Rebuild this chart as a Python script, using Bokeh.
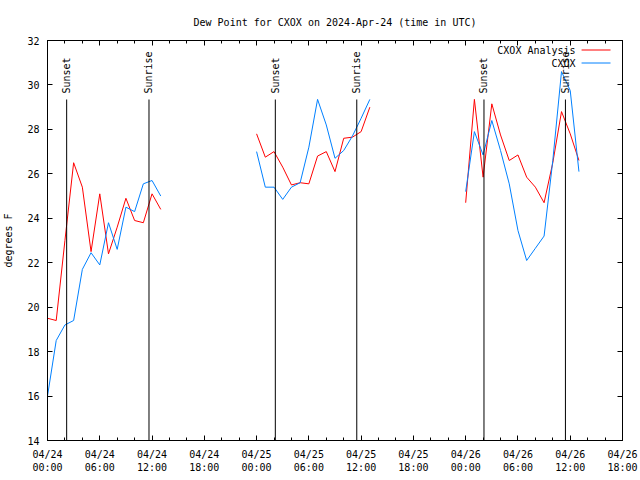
import math
from bokeh.plotting import figure
from bokeh.models import Range1d, FixedTicker, LinearAxis, Title
from bokeh.embed import file_html
from bokeh.resources import INLINE
from bokeh.core.properties import value

# ---------------- data (hours since 2024-04-24 00:00 UTC) ----------------
hours_day1 = [0, 1, 2, 3, 4, 5, 6, 7, 8, 9, 10, 11, 12, 13]
analysis_day1 = [19.5, 19.4, 23.0, 26.5, 25.4, 22.5, 25.1, 22.4, 23.6, 24.9, 23.9, 23.8, 25.1, 24.4]
obs_day1 = [16.0, 18.5, 19.2, 19.4, 21.7, 22.45, 21.9, 23.8, 22.6, 24.5, 24.3, 25.55, 25.7, 25.0]

hours_day2 = [24, 25, 26, 27, 28, 29, 30, 31, 32, 33, 34, 35, 36, 37]
analysis_day2 = [27.8, 26.75, 27.0, 26.3, 25.5, 25.6, 25.55, 26.8, 27.0, 26.1, 27.6, 27.65, 27.9, 29.0]
obs_day2 = [27.0, 25.4, 25.4, 24.85, 25.4, 25.6, 27.2, 29.35, 28.2, 26.7, 27.05, 27.7, 28.5, 29.35]

hours_day3 = [48, 49, 50, 51, 52, 53, 54, 55, 56, 57, 58, 59, 60, 61]
analysis_day3 = [24.7, 29.35, 25.85, 29.15, 27.75, 26.6, 26.85, 25.85, 25.4, 24.7, 26.5, 28.8, 27.8, 26.6]
obs_day3 = [25.2, 27.9, 26.85, 28.4, 27.05, 25.55, 23.45, 22.1, 22.65, 23.2, 26.6, 30.6, 29.75, 26.1]

sun_event_hours = [2.2, 11.65, 26.15, 35.5, 50.1, 59.45]
sun_event_labels = ["Sunset", "Sunrise", "Sunset", "Sunrise", "Sunset", "Sunrise"]

x_tick_hours = [0, 6, 12, 18, 24, 30, 36, 42, 48, 54, 60, 66]
x_tick_labels = ["04/24\n00:00", "04/24\n06:00", "04/24\n12:00", "04/24\n18:00",
                 "04/25\n00:00", "04/25\n06:00", "04/25\n12:00", "04/25\n18:00",
                 "04/26\n00:00", "04/26\n06:00", "04/26\n12:00", "04/26\n18:00"]
x_minor_hours = list(range(0, 67, 2))
y_ticks = [14, 16, 18, 20, 22, 24, 26, 28, 30, 32]

series_names = ["CXOX Analysis", "CXOX"]
series_colors = ["#ff0000", "#0080ff"]
title_text = "Dew Point for CXOX on 2024-Apr-24 (time in UTC)"

# ---------------- layout ----------------
FONT = "DejaVu Sans Mono"
FS = "10px"
X0, X1 = 0, 66
Y0, Y1 = 14, 32
FL, FR, FT, FB = 46, 622, 40, 440   # frame in pixels


def px_x(px):
    return X0 + (px - FL) * (X1 - X0) / (FR - FL)


def px_y(py):
    return Y0 + (FB - py) * (Y1 - Y0) / (FB - FT)


p = figure(width=640, height=480, x_range=Range1d(X0, X1), y_range=Range1d(Y0, Y1),
           output_backend="svg", toolbar_location=None,
           min_border_left=FL, min_border_right=640 - FR,
           min_border_top=FT, min_border_bottom=480 - FB)
p.title = Title(text=title_text, align="center", text_font=FONT, text_font_size=FS,
                text_font_style="normal", text_color="black", standoff=26)
p.background_fill_color = "white"
p.border_fill_color = "white"
p.outline_line_color = "black"
p.outline_line_width = 1
p.grid.visible = False

xa = p.xaxis[0]
xa.ticker = FixedTicker(ticks=x_tick_hours, minor_ticks=x_minor_hours)
xa.major_label_overrides = {h: lab for h, lab in zip(x_tick_hours, x_tick_labels)}
ya = p.yaxis[0]
ya.ticker = FixedTicker(ticks=y_ticks, minor_ticks=[])
ya.axis_label = "degrees F"
ya.axis_label_text_font = FONT
ya.axis_label_text_font_size = FS
ya.axis_label_text_font_style = "normal"
ya.axis_label_text_color = "black"
ya.axis_label_standoff = 10

top = LinearAxis(ticker=FixedTicker(ticks=x_tick_hours, minor_ticks=x_minor_hours))
right = LinearAxis(ticker=FixedTicker(ticks=y_ticks, minor_ticks=[]))
p.add_layout(top, "above")
p.add_layout(right, "right")

for ax in (xa, ya, top, right):
    ax.axis_line_color = "black"
    ax.major_tick_line_color = "black"
    ax.minor_tick_line_color = "black"
    ax.major_tick_in = 5
    ax.major_tick_out = 0
    ax.minor_tick_in = 3
    ax.minor_tick_out = 0
    ax.major_label_text_font = FONT
    ax.major_label_text_font_size = FS
    ax.major_label_text_color = "black"
    ax.major_label_standoff = 8
for ax in (top, right):
    ax.major_label_text_alpha = 0
    ax.major_label_text_font_size = "1px"
    ax.major_label_standoff = 0

# ---------------- series ----------------
for hrs, a, o in ((hours_day1, analysis_day1, obs_day1),
                  (hours_day2, analysis_day2, obs_day2),
                  (hours_day3, analysis_day3, obs_day3)):
    p.line(hrs, a, line_color=series_colors[0], line_width=1)
    p.line(hrs, o, line_color=series_colors[1], line_width=1)

# ---------------- sunrise / sunset markers ----------------
line_top = px_y(99)
p.segment(x0=sun_event_hours, y0=[Y0] * len(sun_event_hours),
          x1=sun_event_hours, y1=[line_top] * len(sun_event_hours),
          line_color="black", line_width=1)
p.text(x=sun_event_hours, y=[px_y(93)] * len(sun_event_hours), text=sun_event_labels,
       angle=math.pi / 2, text_align="left", text_baseline="middle",
       text_font=value(FONT), text_font_size=FS, text_color="black")

# ---------------- legend (gnuplot style: text then sample) ----------------
leg_rows = [px_y(49.5), px_y(62.5)]
p.text(x=[px_x(575)] * 2, y=leg_rows, text=series_names, text_align="right",
       text_baseline="middle", text_font=value(FONT), text_font_size=FS, text_color="black")
p.segment(x0=[px_x(581)] * 2, y0=leg_rows, x1=[px_x(610)] * 2, y1=leg_rows,
          line_color=series_colors, line_width=1)

open("out.html", "w").write(file_html(p, INLINE))
